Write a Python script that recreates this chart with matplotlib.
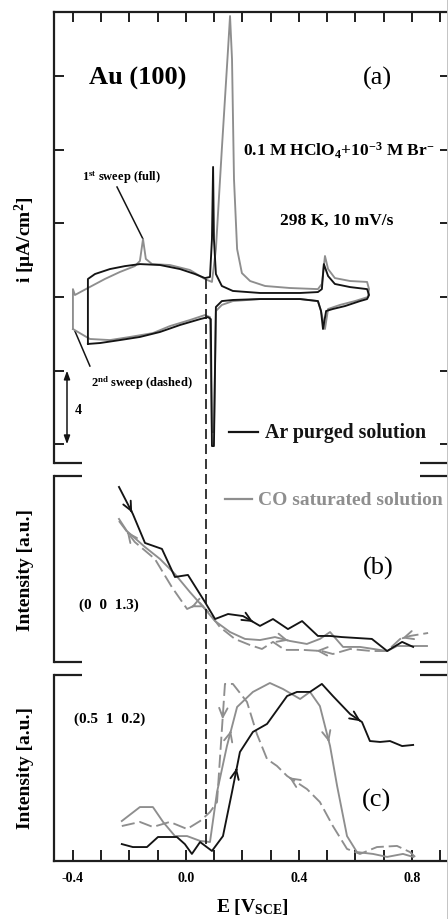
import numpy as np
import matplotlib
matplotlib.use("Agg")
import matplotlib.pyplot as plt
from matplotlib.lines import Line2D

plt.rcParams['font.family'] = ['Liberation Serif', 'DejaVu Serif']
plt.rcParams['font.weight'] = 'bold'
plt.rcParams['axes.unicode_minus'] = False
plt.rcParams['mathtext.fontset'] = 'custom'
plt.rcParams['mathtext.rm'] = 'Liberation Serif:bold'
plt.rcParams['mathtext.it'] = 'Liberation Serif:bold'
plt.rcParams['mathtext.bf'] = 'Liberation Serif:bold'

# ---------------- data ----------------
# (a) cyclic voltammograms, E in V vs SCE, i in uA/cm^2
cv_E_ar = [-0.347, -0.347, -0.322, -0.269, -0.216, -0.163, -0.092, -0.021, 0.032, 0.067,
           0.085, 0.092, 0.096, 0.099, 0.106, 0.127, 0.166, 0.262, 0.404, 0.467,
           0.481, 0.488, 0.503, 0.527, 0.581, 0.641, 0.648, 0.641, 0.616, 0.563,
           0.520, 0.496, 0.485, 0.478, 0.467, 0.404, 0.262, 0.166, 0.127, 0.106,
           0.099, 0.092, 0.088, 0.078, 0.050, -0.021, -0.092, -0.163, -0.234, -0.304, -0.347]
cv_i_ar = [-2.55, 0.98, 1.25, 1.52, 1.68, 1.79, 1.74, 1.52, 1.25, 1.03,
           1.09, 3.15, 7.07, 3.15, 1.25, 0.60, 0.33, 0.22, 0.22, 0.27,
           0.43, 1.79, 1.14, 0.71, 0.54, 0.43, 0.11, -0.11, -0.22, -0.49,
           -0.65, -0.76, -1.74, -0.76, -0.22, -0.11, -0.11, -0.16, -0.22, -0.54,
           -8.10, -8.10, -1.20, -1.09, -1.20, -1.52, -1.90, -2.17, -2.34, -2.50, -2.55]

cv_E_co = [-0.400, -0.400, -0.393, -0.347, -0.287, -0.234, -0.181, -0.163, -0.152, -0.142,
           -0.120, -0.057, 0.014, 0.067, 0.092, 0.106, 0.127, 0.149, 0.156, 0.163,
           0.170, 0.181, 0.198, 0.227, 0.280, 0.368, 0.467, 0.481, 0.492, 0.503,
           0.527, 0.581, 0.641, 0.648, 0.644, 0.598, 0.545, 0.503, 0.492, 0.478,
           0.467, 0.404, 0.262, 0.166, 0.127, 0.106, 0.099, 0.092, 0.085, 0.067,
           0.014, -0.057, -0.117, -0.198, -0.269, -0.340, -0.400]
cv_i_co = [-1.74, 0.43, 0.11, 0.49, 0.98, 1.36, 1.68, 1.96, 3.15, 2.07,
           1.79, 1.74, 1.47, 0.98, 0.82, 2.61, 8.04, 13.48, 15.27, 12.93,
           6.41, 2.61, 1.30, 0.87, 0.60, 0.49, 0.43, 0.71, 2.23, 1.52,
           1.03, 0.87, 0.82, 0.43, 0.00, -0.22, -0.43, -0.65, -1.74, -0.76,
           -0.22, -0.11, -0.11, -0.22, -0.43, -0.76, -7.34, -7.34, -1.09, -0.98,
           -1.25, -1.58, -1.96, -2.17, -2.34, -2.28, -1.74]

# (b) intensity at (0 0 1.3)
b_E_ar = [-0.237, -0.188, -0.145, -0.085, -0.039, 0.007, 0.067, 0.103, 0.149, 0.202,
          0.262, 0.308, 0.361, 0.411, 0.467, 0.510, 0.552, 0.658, 0.712, 0.765, 0.804]
b_I_ar = [9.41, 7.96, 6.40, 6.08, 4.57, 4.68, 3.23, 2.31, 2.58, 2.47,
          1.94, 2.31, 1.77, 2.20, 1.40, 1.40, 1.34, 1.24, 0.59, 1.08, 0.81]

b_E_co1 = [-0.237, -0.209, -0.145, -0.092, -0.039, 0.014, 0.067, 0.103, 0.156, 0.209,
           0.262, 0.315, 0.368, 0.428, 0.474, 0.510, 0.556, 0.616, 0.712, 0.747, 0.853]
b_I_co1 = [7.69, 7.04, 6.18, 5.54, 4.73, 3.76, 2.85, 2.20, 1.61, 1.24,
           1.18, 1.34, 1.13, 0.97, 1.24, 1.61, 0.81, 0.81, 0.59, 0.86, 0.86]

b_E_co2 = [-0.237, -0.181, -0.110, -0.050, 0.004, 0.050, 0.085, 0.120, 0.173, 0.227,
           0.269, 0.308, 0.350, 0.414, 0.481, 0.520, 0.581, 0.658, 0.712, 0.758, 0.793, 0.857]
b_I_co2 = [7.58, 6.45, 5.54, 4.03, 2.85, 3.17, 2.58, 1.88, 1.24, 0.91,
           0.70, 1.08, 0.65, 0.65, 0.59, 0.43, 0.70, 0.59, 0.59, 1.24, 1.40, 1.56]

# (c) intensity at (0.5 1 0.2)
c_E_ar = [-0.227, -0.188, -0.138, -0.099, -0.032, -0.004, 0.021, 0.050, 0.092, 0.131,
          0.163, 0.191, 0.237, 0.287, 0.358, 0.393, 0.439, 0.481, 0.520, 0.581,
          0.623, 0.651, 0.687, 0.722, 0.765, 0.804]
c_I_ar = [0.91, 0.75, 0.75, 1.29, 1.29, 0.91, 0.38, 1.02, 0.54, 1.34,
          3.71, 5.86, 6.94, 7.37, 8.87, 9.09, 9.09, 9.52, 8.87, 7.90,
          7.47, 6.45, 6.40, 6.45, 6.18, 6.24]

c_E_co1 = [-0.227, -0.163, -0.117, -0.081, -0.039, 0.004, 0.050, 0.085, 0.110, 0.145,
           0.181, 0.237, 0.297, 0.343, 0.404, 0.439, 0.474, 0.510, 0.535, 0.570,
           0.605, 0.662, 0.712, 0.768, 0.804]
c_I_co1 = [2.15, 2.90, 2.90, 2.10, 1.34, 1.34, 1.08, 1.02, 3.71, 6.18,
           8.28, 9.09, 9.57, 9.25, 8.71, 9.09, 8.33, 6.18, 4.03, 1.34,
           0.48, 0.38, 0.22, 0.38, 0.22]

c_E_co2 = [-0.227, -0.163, -0.117, -0.057, 0.004, 0.050, 0.085, 0.110, 0.138, 0.166,
           0.216, 0.251, 0.287, 0.322, 0.358, 0.428, 0.474, 0.520, 0.570, 0.616,
           0.676, 0.747, 0.793, 0.811]
c_I_co2 = [1.88, 2.10, 1.83, 2.10, 1.72, 2.15, 2.63, 3.17, 9.52, 9.52,
           8.55, 6.83, 5.48, 5.11, 4.57, 3.87, 3.17, 1.88, 0.65, 0.38,
           0.75, 0.81, 0.48, 0.22]

E_ticks = [-0.4, 0.0, 0.4, 0.8]
i_ticks = [-8, -4, 0, 4, 8, 12]
E_dash = 0.07

# ---------------- style ----------------
BLACK = '#141414'
GRAY = '#8e8e8e'
AXC = '#1e1e1e'
LW = 1.35
DASH = (7, 2.6)

fig = plt.figure(figsize=(4.48, 9.2), dpi=100)
W, H = 448.0, 920.0
left, right = 54.0, 449.5


def add_panel(top, bottom):
    return fig.add_axes([left / W, (H - bottom) / H, (right - left) / W, (bottom - top) / H])


ax_a = add_panel(13, 464)
ax_b = add_panel(477, 663)
ax_c = add_panel(676, 862)

xlim = (-0.467, 0.9327)
for ax in (ax_a, ax_b, ax_c):
    ax.set_xlim(*xlim)
    for s in ax.spines.values():
        s.set_color(AXC)
        s.set_linewidth(1.6)
    ax.tick_params(which='both', direction='in', color=AXC, width=1.4, length=7,
                   labelsize=10)

ax_a.set_ylim(-9.02, 15.49)
ax_b.set_ylim(0, 10)
ax_c.set_ylim(0, 10)


def stubs(ax, y):
    for x0, x1 in ((0.0, 0.071), (0.925, 1.0)):
        ax.plot([x0, x1], [y, y], transform=ax.transAxes, color=AXC, lw=1.6,
                clip_on=False, solid_capstyle='butt')


# panel (a) frame
ax_a.spines['bottom'].set_visible(False)
stubs(ax_a, 0.0)
ax_a.set_xticks(np.arange(-0.4, 0.95, 0.1))
ax_a.tick_params(axis='x', bottom=False, top=True, labelbottom=False, labeltop=False)
ax_a.set_yticks(i_ticks)
ax_a.tick_params(axis='y', left=True, right=True, labelleft=False, labelright=False)

# panel (b) frame
for side in ('top', 'bottom', 'right'):
    ax_b.spines[side].set_visible(False)
stubs(ax_b, 0.0)
stubs(ax_b, 1.0)
ax_b.set_xticks([])
ax_b.set_yticks([])

# panel (c) frame
ax_c.spines['top'].set_visible(False)
stubs(ax_c, 1.0)
ax_c.set_xticks(E_ticks)
ax_c.set_xticklabels(['%.1f' % v for v in E_ticks], fontweight='bold')
ax_c.set_xticks(np.arange(-0.4, 0.95, 0.1), minor=True)
ax_c.tick_params(axis='x', which='both', length=8, pad=7)
ax_c.set_yticks([])

# ---------------- curves ----------------
ax_a.plot(cv_E_co, cv_i_co, color=GRAY, lw=LW, zorder=3)
ax_a.plot(cv_E_ar, cv_i_ar, color=BLACK, lw=LW, zorder=4)

ax_b.plot(b_E_co1, b_I_co1, color=GRAY, lw=LW)
ax_b.plot(b_E_co2, b_I_co2, color=GRAY, lw=LW, dashes=DASH)
ax_b.plot(b_E_ar, b_I_ar, color=BLACK, lw=LW)

ax_c.plot(c_E_co1, c_I_co1, color=GRAY, lw=LW)
ax_c.plot(c_E_co2, c_I_co2, color=GRAY, lw=LW, dashes=DASH)
ax_c.plot(c_E_ar, c_I_ar, color=BLACK, lw=LW)


def sweep_arrow(ax, xs, ys, i, j, frac, color):
    x0, y0, x1, y1 = xs[i], ys[i], xs[j], ys[j]
    tx, ty = x0 + frac * (x1 - x0), y0 + frac * (y1 - y0)
    bx, by = tx - 0.05 * (x1 - x0), ty - 0.05 * (y1 - y0)
    ax.annotate('', xy=(tx, ty), xytext=(bx, by),
                arrowprops=dict(arrowstyle='->,head_length=0.65,head_width=0.3',
                                color=color, lw=LW, shrinkA=0, shrinkB=0,
                                mutation_scale=10))


sweep_arrow(ax_b, b_E_ar, b_I_ar, 0, 1, 0.95, BLACK)
sweep_arrow(ax_b, b_E_ar, b_I_ar, 9, 10, 0.6, BLACK)
sweep_arrow(ax_b, b_E_co1, b_I_co1, 11, 12, 0.9, GRAY)
sweep_arrow(ax_b, b_E_co2, b_I_co2, 1, 0, 0.5, GRAY)
sweep_arrow(ax_b, b_E_co2, b_I_co2, 5, 4, 0.7, GRAY)
sweep_arrow(ax_b, b_E_co2, b_I_co2, 14, 13, 0.3, GRAY)
sweep_arrow(ax_b, b_E_co2, b_I_co2, 20, 19, 0.8, GRAY)

sweep_arrow(ax_c, c_E_ar, c_I_ar, 10, 11, 0.6, BLACK)
sweep_arrow(ax_c, c_E_ar, c_I_ar, 19, 20, 0.9, BLACK)
sweep_arrow(ax_c, c_E_co1, c_I_co1, 9, 10, 0.4, GRAY)
sweep_arrow(ax_c, c_E_co1, c_I_co1, 16, 17, 0.9, GRAY)
sweep_arrow(ax_c, c_E_co2, c_I_co2, 8, 7, 0.3, GRAY)
sweep_arrow(ax_c, c_E_co2, c_I_co2, 15, 14, 0.9, GRAY)

# ---------------- annotations ----------------
ax_a.text(-0.170, 11.96, 'Au (100)', fontsize=19, fontweight='bold', ha='center', va='center')
ax_a.text(0.676, 11.96, '(a)', fontsize=19, fontweight='normal', ha='center', va='center')
ax_a.text(0.542, 7.99, r'0.1 M HClO$_4$+10$^{-3}$ M Br$^{-}$', fontsize=12.5,
          ha='center', va='center')
ax_a.text(0.535, 4.18, '298 K, 10 mV/s', fontsize=12.5, ha='center', va='center')

ax_a.text(-0.227, 6.52, r'1$^{st}$ sweep (full)', fontsize=9, ha='center', va='center')
ax_a.plot([-0.244, -0.152], [5.98, 3.15], color=BLACK, lw=1.1)
ax_a.text(-0.156, -4.62, r'2$^{nd}$ sweep (dashed)', fontsize=9, ha='center', va='center')
ax_a.plot([-0.340, -0.393], [-3.75, -1.85], color=BLACK, lw=1.1)

# current scale bar (4 uA/cm^2)
ax_a.annotate('', xy=(-0.421, -8), xytext=(-0.421, -4),
              arrowprops=dict(arrowstyle='<|-|>,head_length=0.5,head_width=0.18',
                              color=BLACK, lw=1.1, shrinkA=0, shrinkB=0, mutation_scale=10))
ax_a.text(-0.380, -6.1, '4', fontsize=10, ha='center', va='center')

# legend entries
ax_a.plot([0.152, 0.255], [-7.34, -7.34], color=BLACK, lw=1.6)
ax_a.text(0.280, -7.34, 'Ar purged solution', fontsize=14.3, color=BLACK,
          ha='left', va='center')
ax_b.plot([0.138, 0.234], [8.76, 8.76], color=GRAY, lw=1.6)
ax_b.text(0.255, 8.76, 'CO saturated solution', fontsize=14, color=GRAY,
          ha='left', va='center')

ax_b.text(0.680, 5.11, '(b)', fontsize=19, fontweight='normal', ha='center', va='center')
ax_b.text(-0.273, 3.12, '(0  0  1.3)', fontsize=11, ha='center', va='center')
ax_c.text(0.673, 3.33, '(c)', fontsize=19, fontweight='normal', ha='center', va='center')
ax_c.text(-0.269, 7.69, '(0.5  1  0.2)', fontsize=11, ha='center', va='center')

# axis labels
fig.text(25 / W, 1 - 240 / H, r'i [$\mu$A/cm$^2$]', fontsize=14, rotation=90,
         ha='center', va='center')
fig.text(25 / W, 1 - 570 / H, 'Intensity [a.u.]', fontsize=14, rotation=90,
         ha='center', va='center')
fig.text(25 / W, 1 - 768 / H, 'Intensity [a.u.]', fontsize=14, rotation=90,
         ha='center', va='center')
fig.text(252 / W, 1 - 907 / H, r'E [V$_{SCE}$]', fontsize=14, ha='center', va='center')

# potential marker spanning all three panels
to_fig = fig.transFigure.inverted()
p_top = to_fig.transform(ax_a.transData.transform((E_dash, 0.98)))
p_bot = to_fig.transform(ax_c.transData.transform((E_dash, 0.9)))
fig.add_artist(Line2D([p_top[0], p_bot[0]], [p_top[1], p_bot[1]], transform=fig.transFigure,
                      color=BLACK, lw=1.2, dashes=(6, 3)))

# faint right border of the figure
fig.add_artist(Line2D([447.3 / W, 447.3 / W], [0, 1], transform=fig.transFigure,
                      color='#c4c4c4', lw=0.7))

fig.savefig('out.png', dpi=100)
